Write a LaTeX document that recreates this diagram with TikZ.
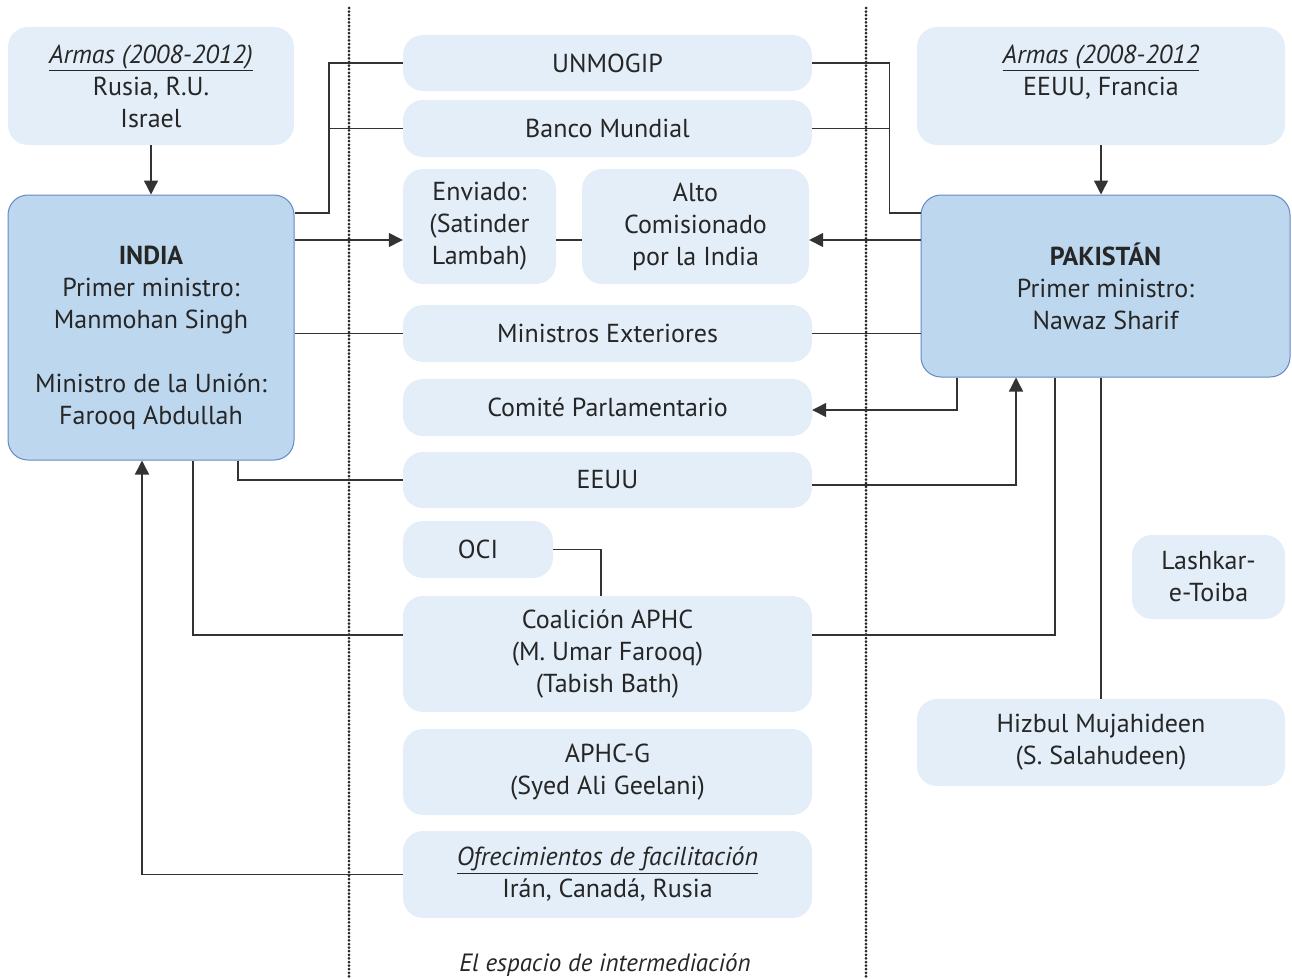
\documentclass[tikz,border=0pt]{standalone}
\usepackage{fontspec}
\setmainfont{PT Sans}
\usetikzlibrary{arrows.meta}
\definecolor{boxlight}{HTML}{E3EEF8}
\definecolor{boxdark}{HTML}{BDD7EE}
\definecolor{boxline}{HTML}{6688C4}
\definecolor{linegray}{HTML}{333333}
\begin{document}
\begin{tikzpicture}[x=1pt,y=-1pt,
    actor/.style={rounded corners=20pt, fill=boxlight, align=center, inner sep=0pt,
      font=\fontsize{26}{32}\selectfont, text=black!85},
    state/.style={actor, fill=boxdark, draw=boxline, line width=1pt},
    conn/.style={draw=linegray, line width=1.4pt},
    arr/.style={conn, -{Triangle[length=14pt,width=14pt]}}]
  \useasboundingbox (0,0) rectangle (1292,978);

  % separators of the middle space
  \foreach \x in {349,866} {
    \draw[black!85, line width=3pt, line cap=round, dash pattern=on 0pt off 3.6pt] (\x,8) -- (\x,978);
  }

  % sides
  \node[actor, minimum width=286pt, minimum height=118pt] (armL) at (151,86)
    {\textit{\underline{Armas (2008-2012)}}\\Rusia, R.U.\\Israel};
  \node[actor, minimum width=368pt, minimum height=118pt] (armR) at (1101,86)
    {\textit{\underline{Armas (2008-2012}}\\EEUU, Francia\\\mbox{}};
  \node[state, minimum width=286pt, minimum height=265pt] (india) at (151,327.5)
    {\rule{0pt}{40pt}\textbf{INDIA}\\Primer ministro:\\Manmohan Singh\\[32pt]Ministro de la Unión:\\Farooq Abdullah};
  \node[state, minimum width=369pt, minimum height=182pt] (pak) at (1105.5,286)
    {\textbf{PAKISTÁN}\\Primer ministro:\\Nawaz Sharif};

  % middle column
  \node[actor, minimum width=409pt, minimum height=56pt] (unmo) at (607.5,63) {UNMOGIP};
  \node[actor, minimum width=409pt, minimum height=57pt] (banco) at (607.5,128.5) {Banco Mundial};
  \node[actor, minimum width=153pt, minimum height=115pt] (env) at (479.5,226.5)
    {Enviado:\\(Satinder\\Lambah)};
  \node[actor, minimum width=227pt, minimum height=115pt] (alto) at (695.5,226.5)
    {Alto\\Comisionado\\por la India};
  \node[actor, minimum width=409pt, minimum height=57pt] (mini) at (607.5,333.5) {Ministros Exteriores};
  \node[actor, minimum width=409pt, minimum height=57pt] (comite) at (607.5,407.5) {Comité Parlamentario};
  \node[actor, minimum width=409pt, minimum height=56pt] (eeuu) at (607.5,480) {EEUU};
  \node[actor, minimum width=150pt, minimum height=57pt] (oci) at (478,549.5) {OCI};
  \node[actor, minimum width=409pt, minimum height=116pt] (aphc) at (607.5,654)
    {Coalición APHC\\(M. Umar Farooq)\\(Tabish Bath)};
  \node[actor, minimum width=409pt, minimum height=86pt] (aphcg) at (607.5,772)
    {APHC-G\\(Syed Ali Geelani)};
  \node[actor, minimum width=409pt, minimum height=87pt] (ofre) at (607.5,874.5)
    {\textit{\underline{Ofrecimientos de facilitación}}\\Irán, Canadá, Rusia};

  % armed groups
  \node[actor, minimum width=153pt, minimum height=84pt] (lash) at (1208.5,577) {Lashkar-\\e-Toiba};
  \node[actor, minimum width=368pt, minimum height=87pt] (hizb) at (1101,742.5)
    {Hizbul Mujahideen\\(S. Salahudeen)};

  \node[font=\fontsize{25}{30}\selectfont\itshape, text=black!85] (cap) at (605,965)
    {El espacio de intermediación};

  % connectors
  \draw[arr] (armL.south) -- (india.north);
  \draw[arr] (armR.south) -- (armR.south |- pak.north);
  \draw[conn] (india.east |- 0,213) -| ([xshift=-74pt]unmo.west) -- (unmo.west);
  \draw[conn] ([xshift=-74pt]banco.west) -- (banco.west);
  \draw[conn] (pak.west |- 0,213) -| ([xshift=77pt]unmo.east) -- (unmo.east);
  \draw[conn] ([xshift=77pt]banco.east) -- (banco.east);
  \draw[arr] (india.east |- 0,240) -- (env.west |- 0,240);
  \draw[conn] (env.east |- 0,240) -- (alto.west |- 0,240);
  \draw[arr] (pak.west |- 0,240) -- (alto.east |- 0,240);
  \draw[conn] (india.east |- mini) -- (mini.west);
  \draw[conn] (mini.east) -- (pak.west |- mini);
  \draw[arr] (957,0 |- pak.south) |- (comite.east |- 0,410);
  \draw[arr] (eeuu.east |- 0,485) -| (1016,0 |- pak.south);
  \draw[conn] (238,0 |- india.south) |- (eeuu.west);
  \draw[conn] (193,0 |- india.south) |- (aphc.west |- 0,635);
  \draw[conn] (aphc.east |- 0,635) -| (1055,0 |- pak.south);
  \draw[conn] (oci.east) -| (601,0 |- aphc.north);
  \draw[conn] (1101,0 |- pak.south) -- (hizb.north);
  \draw[arr] (ofre.west) -| (142,0 |- india.south);
\end{tikzpicture}
\end{document}
